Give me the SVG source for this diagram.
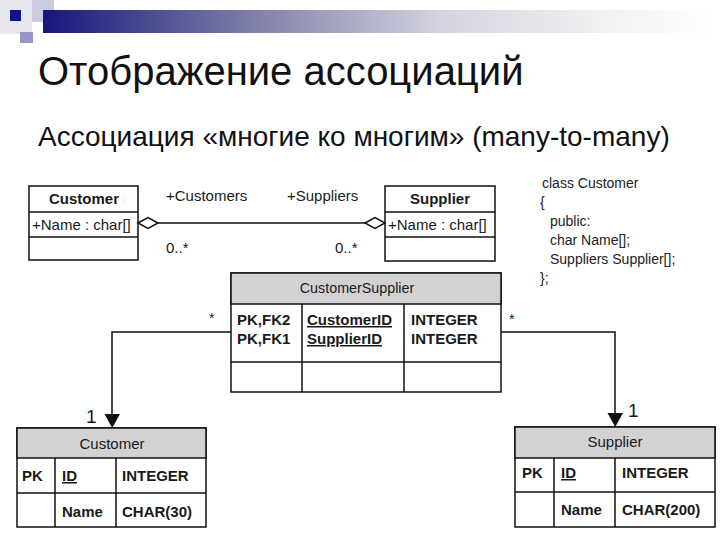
<svg xmlns="http://www.w3.org/2000/svg" width="720" height="540" viewBox="0 0 720 540">
<defs>
<linearGradient id="bar" x1="0" y1="0" x2="1" y2="0">
<stop offset="0" stop-color="#16167c"/>
<stop offset="0.3" stop-color="#7a7aa6"/>
<stop offset="0.6" stop-color="#d4d4e0"/>
<stop offset="0.85" stop-color="#f2f2f2"/>
<stop offset="1" stop-color="#ffffff"/>
</linearGradient>
<style>
text{font-family:"Liberation Sans",Arial,sans-serif;fill:#1a1a1a}
.t{font-size:40px;fill:#111}
.st{font-size:28px;fill:#111}
.b15{font-size:15px;font-weight:bold}
.r15{font-size:15px}
.r14{font-size:14.3px}
.code{font-size:14px;fill:#222}
.lab{font-size:15px}
.one{font-size:19px}
.box{fill:#fff;stroke:#111;stroke-width:1.5}
.hdr{fill:#d2d2d2;stroke:#111;stroke-width:1.5}
.ln{stroke:#111;stroke-width:1.5;fill:none}
.u{text-decoration:underline}
</style>
</defs>
<rect width="720" height="540" fill="#fff"/>
<g id="decor">
<rect x="0" y="0" width="32" height="34" fill="#e6e6ef"/>
<rect x="32" y="0" width="22" height="22" fill="#cacae0"/>
<rect x="10" y="10" width="11" height="11" fill="#12128a"/>
<rect x="20" y="32" width="13" height="11" fill="#9494c8"/>
<rect x="43" y="10" width="665" height="23" fill="url(#bar)"/>
</g>
<text class="t" x="38" y="85">Отображение ассоциаций</text>
<text class="st" x="38" y="146">Ассоциация «многие ко многим» (many-to-many)</text>

<g id="uml-customer">
<rect class="box" x="29" y="186" width="109" height="74"/>
<line class="ln" x1="29" y1="212" x2="138" y2="212"/>
<line class="ln" x1="29" y1="237" x2="138" y2="237"/>
<text class="b15" x="84" y="204" text-anchor="middle">Customer</text>
<text class="r15" x="32" y="230">+Name : char[]</text>
</g>
<g id="uml-supplier">
<rect class="box" x="385" y="186" width="110" height="75"/>
<line class="ln" x1="385" y1="212" x2="495" y2="212"/>
<line class="ln" x1="385" y1="237" x2="495" y2="237"/>
<text class="b15" x="440" y="204" text-anchor="middle">Supplier</text>
<text class="r15" x="388" y="230">+Name : char[]</text>
</g>

<g id="code">
<text class="code" x="542" y="188">class Customer</text>
<text class="code" x="540" y="207">{</text>
<text class="code" x="550" y="226">public:</text>
<text class="code" x="550" y="245">char Name[];</text>
<text class="code" x="550" y="264">Suppliers Supplier[];</text>
<text class="code" x="540" y="283">};</text>
</g>

<g id="customer-supplier">
<rect class="box" x="231" y="273" width="270" height="119"/>
<rect class="hdr" x="231" y="273" width="270" height="31"/>
<line class="ln" x1="231" y1="362" x2="501" y2="362"/>
<line class="ln" x1="302" y1="304" x2="302" y2="392"/>
<line class="ln" x1="404" y1="304" x2="404" y2="392"/>
<text class="r14" x="357" y="293" text-anchor="middle">CustomerSupplier</text>
<text class="b15" x="237" y="325">PK,FK2</text>
<text class="b15" x="237" y="344">PK,FK1</text>
<text class="b15 u" x="307" y="325">CustomerID</text>
<text class="b15 u" x="307" y="344">SupplierID</text>
<text class="b15" x="411" y="325">INTEGER</text>
<text class="b15" x="411" y="344">INTEGER</text>
</g>

<g id="customer-table">
<rect class="box" x="17" y="428" width="189" height="99"/>
<rect class="hdr" x="17" y="428" width="189" height="30"/>
<line class="ln" x1="17" y1="493" x2="206" y2="493"/>
<line class="ln" x1="55" y1="458" x2="55" y2="527"/>
<line class="ln" x1="116" y1="458" x2="116" y2="527"/>
<text class="r15" x="112" y="449" text-anchor="middle">Customer</text>
<text class="b15" x="22" y="481">PK</text>
<text class="b15 u" x="62" y="481">ID</text>
<text class="b15" x="122" y="481">INTEGER</text>
<text class="b15" x="62" y="517">Name</text>
<text class="b15" x="122" y="517">CHAR(30)</text>
</g>

<g id="supplier-table">
<rect class="box" x="515" y="427" width="200" height="100"/>
<rect class="hdr" x="515" y="427" width="200" height="31"/>
<line class="ln" x1="515" y1="492" x2="715" y2="492"/>
<line class="ln" x1="554" y1="458" x2="554" y2="527"/>
<line class="ln" x1="615" y1="458" x2="615" y2="527"/>
<text class="r15" x="615" y="447" text-anchor="middle">Supplier</text>
<text class="b15" x="522" y="478">PK</text>
<text class="b15 u" x="561" y="478">ID</text>
<text class="b15" x="622" y="478">INTEGER</text>
<text class="b15" x="561" y="515">Name</text>
<text class="b15" x="622" y="515">CHAR(200)</text>
</g>

<g id="connectors">
<line class="ln" x1="158" y1="223" x2="365" y2="223"/>
<polygon points="138,223 148,217.5 158,223 148,228.5" fill="#fff" stroke="#111" stroke-width="1.5"/>
<polygon points="365,223 375,217.5 385,223 375,228.5" fill="#fff" stroke="#111" stroke-width="1.5"/>
<text class="lab" x="166" y="201">+Customers</text>
<text class="lab" x="287" y="201">+Suppliers</text>
<text class="lab" x="166" y="253">0..*</text>
<text class="lab" x="335" y="253">0..*</text>

<polyline class="ln" points="231,332 112,332 112,415" stroke-width="2"/>
<polygon points="104.5,414 120,414 112.2,428" fill="#111"/>
<polyline class="ln" points="501,332 615,332 615,414" stroke-width="2"/>
<polygon points="607.5,413 623,413 615.2,427" fill="#111"/>
<text class="r14" x="209" y="323">*</text>
<text class="r14" x="509" y="324">*</text>
<text class="one" x="86" y="423">1</text>
<text class="one" x="628" y="417">1</text>
</g>
</svg>
